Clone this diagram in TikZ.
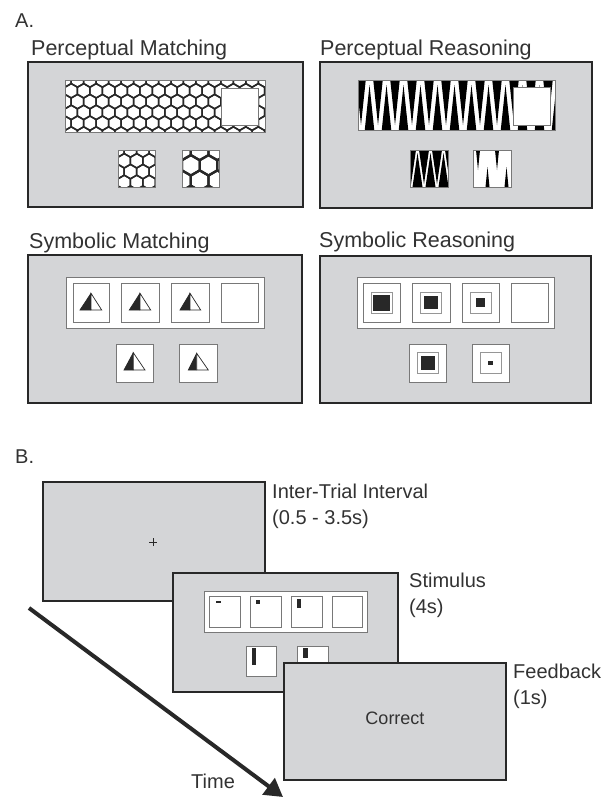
\documentclass[tikz,border=0pt]{standalone}
\usepackage{fontspec}
\setmainfont{Liberation Sans}
\usetikzlibrary{arrows.meta}
\definecolor{panelgray}{RGB}{212,213,215}
\definecolor{ink}{RGB}{40,40,40}
\definecolor{txt}{RGB}{50,50,50}
\definecolor{cellline}{RGB}{120,120,120}
\definecolor{innerline}{RGB}{150,150,150}

\newcommand\myhoney[6]{%
 \begin{scope}
 \clip (#1,#2) rectangle (#3,#4);
 \fill[white] (#1,#2) rectangle (#3,#4);
 \pgfmathsetmacro\hw{1.7320508*#5}
 \foreach \j in {0,...,8}{
  \foreach \i in {-1,...,18}{
   \pgfmathsetmacro\cx{#1+\i*\hw+mod(\j,2)*\hw/2}
   \pgfmathsetmacro\cy{#2+\j*1.5*#5}
   \draw[line width=#6, ink] (\cx+\hw/2,\cy-#5/2) -- (\cx,\cy-#5) -- (\cx-\hw/2,\cy-#5/2) -- (\cx-\hw/2,\cy+#5/2) -- (\cx,\cy+#5) -- (\cx+\hw/2,\cy+#5/2) -- cycle;
  }}
 \end{scope}
 \draw[cellline, line width=0.9] (#1,#2) rectangle (#3,#4);}

\newcommand\myzig[8]{%
 \begin{scope}
 \clip (#1,#2) rectangle (#3,#4);
 \fill[white] (#1,#2) rectangle (#3,#4);
 \foreach \k in {-1,...,15}{
  \pgfmathsetmacro\xk{#5+\k*#6}
  \pgfmathsetmacro\xm{#5+\k*#6+#6/2}
  \fill[black] (\xk-#7/2,#2) -- (\xk+#7/2,#2) -- (\xk,#4-#8) -- cycle;
  \fill[black] (\xm-#7/2,#4) -- (\xm+#7/2,#4) -- (\xm,#2+#8) -- cycle;
 }
 \end{scope}
 \draw[cellline, line width=0.9] (#1,#2) rectangle (#3,#4);}

\newcommand\mytri[5]{% apexx topy left right boty
 \fill[ink] (#1,#2) -- (#3,#5) -- (#1,#5) -- cycle;
 \draw[ink, line width=0.7, fill=white] (#1,#2) -- (#4,#5) -- (#1,#5) -- cycle;
 \draw[ink, line width=0.7] (#1,#2) -- (#3,#5) -- (#1,#5);}

\newcommand\mynest[4]{% cx cy halfw halfh of black
 \draw[innerline, line width=0.9, fill=white] (#1-10.5,#2-10.5) rectangle (#1+10.5,#2+10.5);
 \fill[ink] (#1-#3,#2-#4) rectangle (#1+#3,#2+#4);}

\tikzset{
 panel/.style={fill=panelgray, draw=ink, line width=2.2},
 strip/.style={fill=white, draw=cellline, line width=0.9},
 cell/.style={fill=white, draw=cellline, line width=0.9},
 title/.style={text=txt, anchor=base west, inner sep=0, font=\fontsize{21.5}{24}\selectfont},
 lab/.style={text=txt, anchor=base west, inner sep=0, font=\fontsize{20}{23}\selectfont},
 timearrow/.style={draw=ink, line width=4, -{Triangle[length=18,width=20]}},
}

\begin{document}
\begin{tikzpicture}[x=1pt,y=-1pt]
\useasboundingbox (0,0) rectangle (615,798);
\fill[white] (0,0) rectangle (615,798);

% Part A
\node[lab] (labA) at (15,27) {A.};

% Perceptual Matching
\node[title] (t1) at (31,55) {Perceptual Matching};
\draw[panel] (28,62) rectangle (303,207);
\myhoney{65}{80}{265}{132}{7.2}{1.5}
\draw[cell] (221,88) rectangle (258,125);
\myhoney{118}{150}{155}{187}{7.2}{1.5}
\myhoney{182}{150}{219}{187}{10.2}{2.3}

% Perceptual Reasoning
\node[title] (t2) at (320,55) {Perceptual Reasoning};
\draw[panel] (320,62) rectangle (592,208);
\myzig{358}{80}{555}{130}{361}{17}{9.5}{5}
\draw[cell] (513,87) rectangle (550,125);
\myzig{410}{150}{448}{187}{411}{13}{10}{3}
\myzig{473}{150}{511}{187}{478}{19}{4}{17}

% Symbolic Matching
\node[title] (t3) at (29,248) {Symbolic Matching};
\draw[panel] (28,255) rectangle (302,403);
\draw[strip] (66,277) rectangle (264,328);
\draw[cell] (73,283) rectangle (109,322);
\draw[cell] (121,283) rectangle (159,322);
\draw[cell] (171,283) rectangle (209,322);
\draw[cell] (221,283) rectangle (258,322);
\draw[cell] (116,344) rectangle (153,382);
\draw[cell] (179,344) rectangle (217,382);
\mytri{91}{293.3}{80}{101.7}{310}
\mytri{140}{293.3}{129.3}{150.7}{310}
\mytri{190}{293.3}{180}{200.7}{310}
\mytri{133.3}{352.7}{124}{145}{370}
\mytri{196.7}{353.3}{188.3}{208.3}{370}

% Symbolic Reasoning
\node[title] (t4) at (319,247) {Symbolic Reasoning};
\draw[panel] (320,256) rectangle (591,403);
\draw[strip] (357,277) rectangle (554,328);
\draw[cell] (363,283) rectangle (400,322);
\draw[cell] (412,283) rectangle (450,322);
\draw[cell] (462,283) rectangle (499,322);
\draw[cell] (511,283) rectangle (548,322);
\draw[cell] (409,344) rectangle (446,382);
\draw[cell] (472,344) rectangle (509,382);
\mynest{381.5}{302.5}{8.5}{8}
\mynest{431}{302.5}{6.8}{6.8}
\mynest{480.5}{302.5}{4.6}{4.4}
\mynest{427.5}{363}{7}{7}
\mynest{490.5}{363}{2.5}{1.6}

% Part B
\node[lab] (labB) at (15,463) {B.};

% ITI
\draw[panel] (43,482) rectangle (265,601);
\coordinate (fix) at (153,542);
\draw[ink, line width=0.8] ([xshift=-4]fix) -- ([xshift=4]fix);
\draw[ink, line width=0.8] ([yshift=-4]fix) -- ([yshift=4]fix);
\node[lab] (iti1) at (272,498) {Inter-Trial Interval};
\node[lab] (iti2) at (272,524) {(0.5 - 3.5s)};

% Stimulus
\draw[panel] (173,573) rectangle (398,692);
\draw[strip] (204,591) rectangle (367,632);
\draw[cell] (209,596) rectangle (240,627);
\draw[cell] (250,596) rectangle (281,627);
\draw[cell] (291,596) rectangle (322,627);
\draw[cell] (332,596) rectangle (362,627);
\fill[ink] (216,600.5) rectangle (220.5,602.8);
\fill[ink] (256,600) rectangle (260,604.3);
\fill[ink] (297,599) rectangle (301,607.5);
\draw[cell] (246,646) rectangle (276,676);
\draw[cell] (297,646) rectangle (328,676);
\fill[ink] (251.7,648) rectangle (255.7,665);
\fill[ink] (303.3,648) rectangle (307.7,658);
\node[lab] (st1) at (409,587) {Stimulus};
\node[lab] (st2) at (409,613) {(4s)};

% Feedback
\draw[panel] (284,663) rectangle (506,780);
\node[text=txt, inner sep=0, anchor=base, font=\fontsize{18}{21}\selectfont] (corr) at (395,724) {Correct};
\node[lab] (fb1) at (513,678) {Feedback};
\node[lab] (fb2) at (513,704) {(1s)};

% Time arrow
\coordinate (tstart) at (29,608);
\coordinate (tend) at (283,797);
\draw[timearrow] (tstart) -- (tend);
\node[lab] (time) at (191,788) {Time};
\end{tikzpicture}
\end{document}
